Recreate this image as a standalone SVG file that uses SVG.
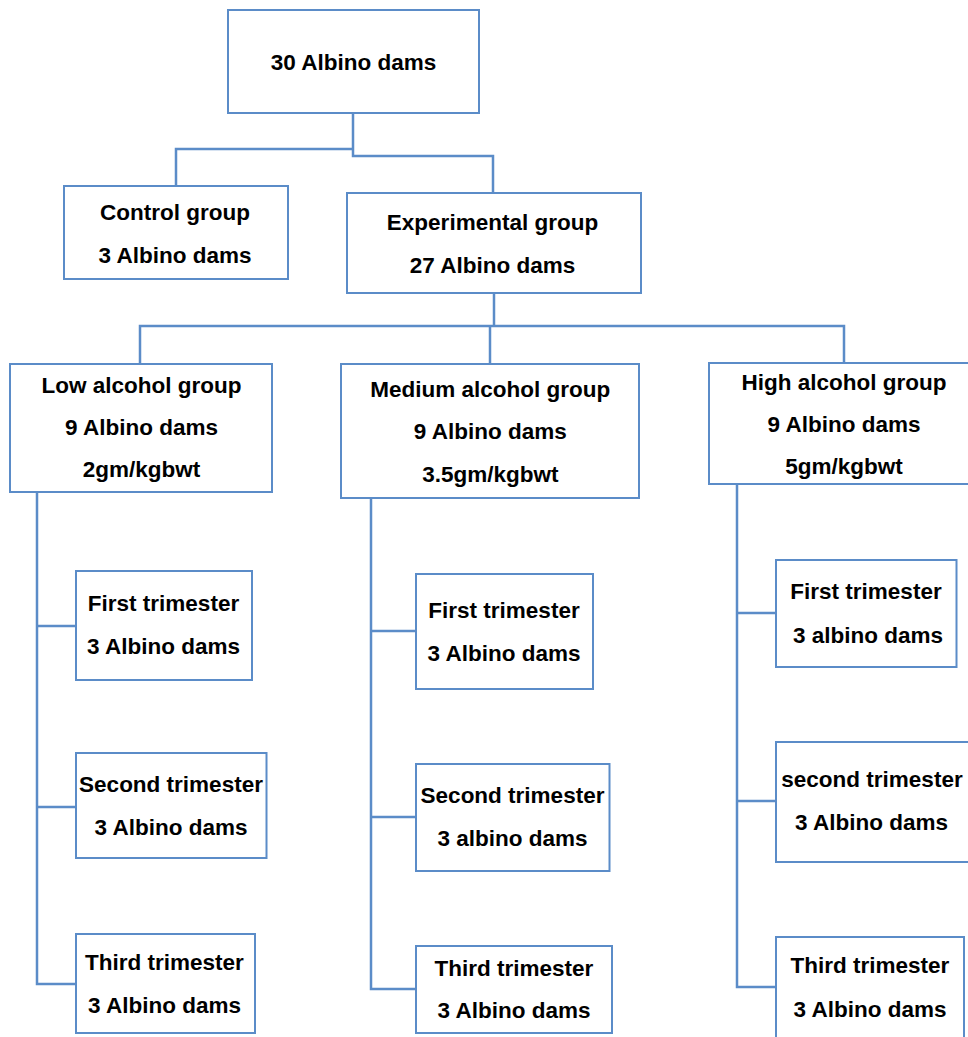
<svg xmlns="http://www.w3.org/2000/svg" width="968" height="1037" viewBox="0 0 968 1037">
<style>
.box{fill:#ffffff;stroke:#5b8cc8;stroke-width:2}
.ln{fill:none;stroke:#5b8cc8;stroke-width:2.5}
text{font-family:"Liberation Sans",Arial,sans-serif;font-weight:bold;font-size:22.5px;fill:#000;text-anchor:middle}
</style>
<rect width="968" height="1037" fill="#ffffff"/>
<g id="connectors">
<path class="ln" d="M353,113 V156 H493 V193"/>
<path class="ln" d="M353,149 H176 V186"/>
<path class="ln" d="M494,293 V326"/>
<path class="ln" d="M140,364 V326 H844 V363"/>
<path class="ln" d="M490,326 V364"/>
<path class="ln" d="M37,492 V984 H76"/>
<path class="ln" d="M37,626 H76"/>
<path class="ln" d="M37,807 H76"/>
<path class="ln" d="M371,498 V989 H416"/>
<path class="ln" d="M371,631 H416"/>
<path class="ln" d="M371,817 H416"/>
<path class="ln" d="M737,484 V987 H776"/>
<path class="ln" d="M737,613 H776"/>
<path class="ln" d="M737,801 H776"/>
</g>
<g id="root">
<rect class="box" x="228" y="10" width="251" height="103"/>
<text x="353.5" y="70">30 Albino dams</text>
</g>
<g id="control">
<rect class="box" x="64" y="186" width="224" height="93"/>
<text x="175" y="220">Control group</text>
<text x="175" y="263">3 Albino dams</text>
</g>
<g id="experimental">
<rect class="box" x="347" y="193" width="294" height="100"/>
<text x="492.5" y="230">Experimental group</text>
<text x="492.5" y="273">27 Albino dams</text>
</g>
<g id="low">
<rect class="box" x="10" y="364" width="262" height="128"/>
<text x="141.5" y="393">Low alcohol group</text>
<text x="141.5" y="435">9 Albino dams</text>
<text x="141.5" y="477">2gm/kgbwt</text>
</g>
<g id="medium">
<rect class="box" x="341" y="364" width="298" height="134"/>
<text x="490.3" y="397">Medium alcohol group</text>
<text x="490.3" y="438.5">9 Albino dams</text>
<text x="490.3" y="482">3.5gm/kgbwt</text>
</g>
<g id="high">
<rect class="box" x="709" y="363" width="270" height="121"/>
<text x="844" y="390">High alcohol group</text>
<text x="844" y="432">9 Albino dams</text>
<text x="844" y="474">5gm/kgbwt</text>
</g>
<g id="low-first">
<rect class="box" x="76" y="571" width="176" height="109"/>
<text x="163.5" y="611">First trimester</text>
<text x="163.5" y="654">3 Albino dams</text>
</g>
<g id="low-second">
<rect class="box" x="76" y="753" width="190.5" height="105"/>
<text x="171" y="792">Second trimester</text>
<text x="171" y="835">3 Albino dams</text>
</g>
<g id="low-third">
<rect class="box" x="76" y="934" width="179" height="99"/>
<text x="164.5" y="970">Third trimester</text>
<text x="164.5" y="1013">3 Albino dams</text>
</g>
<g id="medium-first">
<rect class="box" x="416" y="574" width="177" height="115"/>
<text x="504" y="618">First trimester</text>
<text x="504" y="661">3 Albino dams</text>
</g>
<g id="medium-second">
<rect class="box" x="416" y="764" width="193.5" height="107"/>
<text x="512.5" y="803">Second trimester</text>
<text x="512.5" y="846">3 albino dams</text>
</g>
<g id="medium-third">
<rect class="box" x="416" y="946" width="196" height="87"/>
<text x="514" y="976">Third trimester</text>
<text x="514" y="1018">3 Albino dams</text>
</g>
<g id="high-first">
<rect class="box" x="776" y="560" width="180.5" height="107"/>
<text x="866" y="599">First trimester</text>
<text x="868" y="643">3 albino dams</text>
</g>
<g id="high-second">
<rect class="box" x="776" y="742" width="200" height="120"/>
<text x="872" y="787">second trimester</text>
<text x="871.5" y="830">3 Albino dams</text>
</g>
<g id="high-third">
<rect class="box" x="776" y="937" width="188" height="110"/>
<text x="870" y="973">Third trimester</text>
<text x="870" y="1017">3 Albino dams</text>
</g>
</svg>
